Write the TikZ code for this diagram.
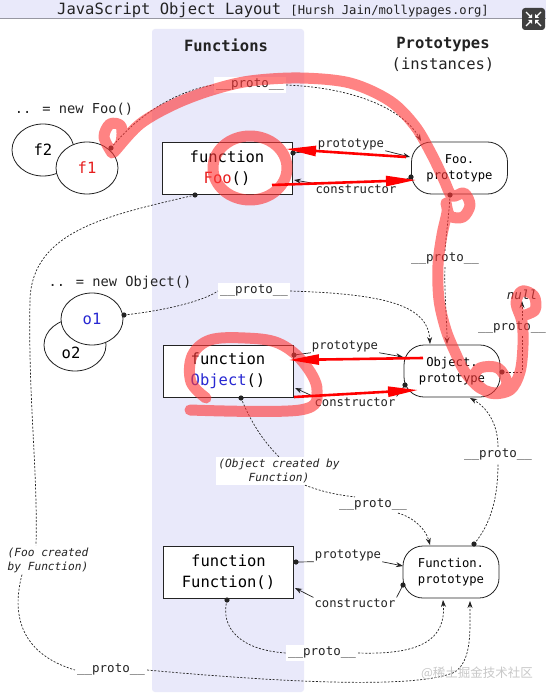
\documentclass[tikz,border=0pt]{standalone}
\usepackage{fontspec}
\setmainfont{DejaVu Sans Mono}
\newfontfamily\cjk{Noto Sans CJK SC}
\usetikzlibrary{arrows.meta,shapes.geometric}
\definecolor{lav}{RGB}{233,233,250}
\definecolor{hl}{RGB}{255,55,55}
\definecolor{ink}{RGB}{35,35,35}
\definecolor{fooRed}{RGB}{230,30,30}
\definecolor{objBlue}{RGB}{40,40,210}
\definecolor{wm}{RGB}{200,200,200}
\tikzset{
  fnbox/.style={draw=ink, line width=0.8pt, fill=white, minimum width=130pt, minimum height=52pt, align=center, font=\fontsize{15.5}{21}\selectfont, inner sep=0pt},
  protobox/.style={draw=ink, line width=0.8pt, fill=white, rounded corners=20pt, minimum width=96pt, minimum height=52pt, align=center, font=\fontsize{12.2}{16}\selectfont, inner sep=0pt},
  objell/.style={ellipse, draw=ink, line width=0.8pt, fill=white, minimum width=62pt, minimum height=52pt, font=\fontsize{15.5}{18}\selectfont, inner sep=0pt},
  lbl/.style={font=\fontsize{12.2}{14}\selectfont, inner sep=1pt, text=ink},
  plbl/.style={font=\fontsize{12.5}{14}\selectfont, fill=white, inner sep=2pt, text=ink},
  ilbl/.style={font=\fontsize{11.2}{14}\selectfont\itshape, fill=white, inner sep=2pt, text=ink},
  dsh/.style={draw=ink, line width=0.7pt, dash pattern=on 2pt off 1.6pt},
  sol/.style={draw=ink, line width=0.7pt},
  arr/.style={-{Stealth[length=7pt,width=5pt]}},
  hlstroke/.style={draw=hl, draw opacity=0.62, line width=11pt, line cap=round, line join=round},
  redarr/.style={draw=red, line width=2.6pt, -{Triangle[length=30pt,width=10pt]}},
  hdr/.style={font=\fontsize{15.5}{18}\selectfont\bfseries, text=ink},
}
\begin{document}
\begin{tikzpicture}[x=1pt,y=-1pt]
\useasboundingbox (0,0) rectangle (546,698);
\fill[white] (0,0) rectangle (546,698);
% title strip
\fill[lav] (0,0) rectangle (546,18);
\draw[color=black!35!lav, line width=0.8pt] (0,18) -- (546,18);
\node[anchor=base, text=ink] (title) at (273,15) {\fontsize{15.5}{16}\selectfont JavaScript Object Layout \fontsize{12.2}{13}\selectfont[Hursh Jain/mollypages.org]};
% expand icon
\fill[black!75, rounded corners=3pt] (522,8) rectangle (545,30);
\begin{scope}[white, line width=1.3pt]
\draw (526,12) -- (531,17); \draw (541,12) -- (536,17);
\draw (526,26) -- (531,21); \draw (541,26) -- (536,21);
\fill (532,18) -- (532,14) -- (528,18) -- cycle;
\fill (535,18) -- (535,14) -- (539,18) -- cycle;
\fill (532,20) -- (532,24) -- (528,20) -- cycle;
\fill (535,20) -- (535,24) -- (539,20) -- cycle;
\end{scope}
% functions column
\fill[lav, rounded corners=3pt] (152,29) rectangle (304,692);
\node[hdr] (hfun) at (226,45) {Functions};
\node[hdr] (hproto) at (443,44) {Prototypes};
\node[font=\fontsize{15.5}{18}\selectfont, text=ink] (hinst) at (443,65) {(instances)};

% instances
\node[font=\fontsize{13.7}{16}\selectfont, text=ink] (newfoo) at (74,109) {.. = new Foo()};
\node[objell] (f2) at (43,150) {f2};
\node[objell, text=fooRed] (f1) at (87,168) {f1};
\node[font=\fontsize{13.7}{16}\selectfont, text=ink] (newobj) at (120,283) {.. = new Object()};
\node[objell, label={[xshift=-4pt,yshift=-8pt,font=\fontsize{15.5}{18}\selectfont]center:o2}] (o2) at (75,345) {};
\node[objell, text=objBlue] (o1) at (92,319) {o1};

% function boxes
\node[fnbox] (foo) at (227,168.5) {function\\\textcolor{fooRed}{Foo}()};
\node[fnbox] (obj) at (228,371) {function\\\textcolor{objBlue}{Object}()};
\node[fnbox] (fun) at (228.5,572) {function\\Function()};
% prototype boxes
\node[protobox] (foop) at (459.5,168) {Foo.\\prototype};
\node[protobox] (objp) at (452,371) {Object.\\prototype};
\node[protobox] (funp) at (451,572) {Function.\\prototype};

% labels
\node[lbl] (pFoo) at (351,144) {prototype};
\node[lbl] (cFoo) at (356,189) {constructor};
\node[lbl] (pObj) at (345,346) {prototype};
\node[lbl] (cObj) at (355,402) {constructor};
\node[lbl] (pFun) at (348,555) {prototype};
\node[lbl] (cFun) at (355,603) {constructor};
\node[plbl] (ptop) at (250,85) {\_\_proto\_\_};
\node[plbl] (po1) at (254,291) {\_\_proto\_\_};
\node[plbl] (pFP) at (445,259) {\_\_proto\_\_};
\node[plbl] (pOC) at (373,505) {\_\_proto\_\_};
\node[plbl] (pFPO) at (498,455) {\_\_proto\_\_};
\node[plbl] (pFun2) at (322,653) {\_\_proto\_\_};
\node[plbl] (pbot) at (111,670) {\_\_proto\_\_};
\node[ilbl, align=center] (objc) at (279,471) {(Object created by\\Function)};
\node[ilbl, align=left, fill=none] (fooc) at (48,560) {(Foo created\\by Function)};
\node[font=\fontsize{12.5}{14}\selectfont\itshape, text=ink, inner sep=1pt] (null) at (522,295) {null};

% dot coordinates
\coordinate (f1d) at (111,148);
\coordinate (foopd) at (293,153);
\coordinate (fooct) at (294,180);
\coordinate (foobd) at (195,195);
\coordinate (foopt) at (410,157);
\coordinate (foocd) at (411,177);
\coordinate (foopin) at (421,141);
\coordinate (foopbd) at (450,195);
\coordinate (o1d) at (124,315);
\coordinate (objpd) at (294,355);
\coordinate (objct) at (295,388);
\coordinate (objbd) at (241,398);
\coordinate (objpt) at (403,357);
\coordinate (objcd) at (405,385);
\coordinate (objpin1) at (430,344);
\coordinate (objpin2) at (447,344);
\coordinate (objprd) at (502,372);
\coordinate (objpbt) at (470,398);
\coordinate (nullc) at (522,372);
\coordinate (funpd) at (296,562);
\coordinate (funct) at (295,588);
\coordinate (funbd) at (227,600);
\coordinate (funpt) at (403,566);
\coordinate (funcd) at (403,585);
\coordinate (funpin) at (430,545);
\coordinate (funptd) at (474,544);
\coordinate (funpb1) at (443,600);
\coordinate (funpb2) at (470,601);

% prototype / constructor links
\draw[sol] (foopd) -- (pFoo.south west);
\draw[sol,arr] (pFoo.south east) -- (foopt);
\draw[sol] (foocd) -- (cFoo.north east);
\draw[sol,arr] (cFoo.north west) -- (fooct);
\draw[sol] (objpd) -- (pObj.south west);
\draw[sol,arr] (pObj.south east) -- (objpt);
\draw[sol] (objcd) -- (cObj.north east);
\draw[sol,arr] (cObj.north west) -- (objct);
\draw[sol] (funpd) -- (pFun.south west);
\draw[sol,arr] (pFun.south east) -- (funpt);
\draw[sol] (funcd) -- (cFun.north east);
\draw[sol,arr] (cFun.north west) -- (funct);

% __proto__ links
\draw[dsh] (f1d) .. controls (140,112) and (180,90) .. (ptop.west);
\draw[dsh,arr] (ptop.east) .. controls (360,88) and (405,112) .. (foopin);
\draw[dsh] (o1d) .. controls (170,310) and (205,300) .. (po1.west);
\draw[dsh,arr] (po1.east) .. controls (385,294) and (428,305) .. (objpin1);
\draw[dsh] (foopbd) .. controls (449,215) and (446,235) .. (pFP.north);
\draw[dsh,arr] (pFP.south) .. controls (444,290) and (447,320) .. (objpin2);
\draw[dsh,arr] (objprd) -- (nullc) -- (null.south);
\draw[dsh] (objbd) .. controls (250,420) and (262,440) .. (objc.north);
\draw[dsh] ([xshift=26pt]objc.south) .. controls (318,490) and (330,494) .. ([xshift=-18pt]pOC.north);
\draw[dsh,arr] ([xshift=25pt]pOC.south) .. controls (415,518) and (426,530) .. (funpin);
\draw[dsh] (funptd) .. controls (490,525) and (498,500) .. (pFPO.south);
\draw[dsh,arr] (pFPO.north) .. controls (498,425) and (488,408) .. (objpbt);
\draw[dsh] (funbd) .. controls (220,628) and (240,650) .. (pFun2.west);
\draw[dsh,arr] (pFun2.east) .. controls (420,655) and (446,640) .. (funpb1);
\draw[dsh] (foobd) .. controls (110,215) and (32,230) .. (30,300) .. controls (28,400) and (38,470) .. ([xshift=-12pt]fooc.north);
\draw[dsh] ([xshift=-26pt]fooc.south) .. controls (10,620) and (25,655) .. (pbot.west);
\draw[dsh,arr] (pbot.east) .. controls (300,684) and (420,688) .. (455,672) .. controls (472,660) and (470,630) .. (funpb2);
\node[plbl] (pnull) at (512,328) {\_\_proto\_\_};

% dots
\foreach \d in {f1d,foopd,foobd,foocd,foopbd,o1d,objpd,objbd,objcd,objprd,funpd,funbd,funcd,funptd}
  \fill[ink] (\d) circle (2.6pt);

% watermark
\node[text=wm, font=\fontsize{12.5}{14}\selectfont] (wmark) at (477,673) {\cjk @稀土掘金技术社区};

% red highlights
\draw[hlstroke] (250,168) ellipse [x radius=37, y radius=32];
\draw[hlstroke] plot[smooth, tension=0.6] coordinates {(190,410) (300,410) (317,390) (303,362) (278,343) (245,338) (210,340) (192,356) (191,382) (206,398)};
\draw[hlstroke] plot[smooth, tension=0.55] coordinates {(112,153) (104,137) (110,124) (121,126) (121,142) (114,152) (140,124) (175,104) (212,90) (250,81) (300,78) (350,83) (390,101) (415,126) (432,155) (444,180) (452,196) (464,193) (470,205) (463,217) (450,216) (446,203) (447,212) (442,235) (438,265) (439,300) (446,330) (455,352) (465,372) (480,388) (498,393) (507,383) (498,368) (480,368) (474,380) (490,393) (510,390) (520,372) (523,345) (522,322) (516,303) (522,291) (534,296) (535,310) (522,316)};
\coordinate (ra1) at (406,157);
\coordinate (ra1t) at (286,149);
\coordinate (ra2) at (272,185);
\coordinate (ra2t) at (416,180);
\coordinate (ra3) at (423,358);
\coordinate (ra3t) at (289,360);
\coordinate (ra4) at (294,397);
\coordinate (ra4t) at (418,390);
\draw[redarr] (ra1) -- (ra1t);
\draw[redarr] (ra2) -- (ra2t);
\draw[redarr] (ra3) -- (ra3t);
\draw[redarr] (ra4) -- (ra4t);
\end{tikzpicture}
\end{document}
